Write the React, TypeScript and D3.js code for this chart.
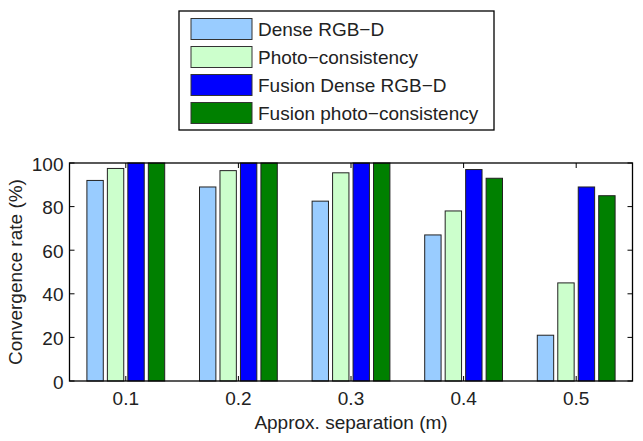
import React from "react";
import * as d3 from "d3";

// separations (m) and convergence rates (%) per method
const separations = ["0.1", "0.2", "0.3", "0.4", "0.5"];
const denseRgbd = [92, 89, 82.5, 67, 21];
const photoConsistency = [97.5, 96.5, 95.5, 78, 45];
const fusionDenseRgbd = [100, 100, 100, 97, 89];
const fusionPhoto = [100, 100, 100, 93, 85];
const seriesNames = [
  "Dense RGB\u2212D",
  "Photo\u2212consistency",
  "Fusion Dense RGB\u2212D",
  "Fusion photo\u2212consistency",
];
const yTicks = [0, 20, 40, 60, 80, 100];

const colors = ["#99ccff", "#ccffcc", "#0000ff", "#008000"];
const series = [denseRgbd, photoConsistency, fusionDenseRgbd, fusionPhoto];

const W = 643;
const H = 441;
const plot = { left: 69.5, right: 632.5, top: 163, bottom: 381 };
const font = "Liberation Sans, Arial, Helvetica, sans-serif";
const fs = 19;

const App = () => {
  const x = d3.scaleLinear().domain([0.5, separations.length + 0.5]).range([plot.left, plot.right]);
  const y = d3.scaleLinear().domain([0, 100]).range([plot.bottom, plot.top]);

  // matlab-style grouped bars
  const n = series.length;
  const groupWidth = Math.min(0.8, n / (n + 1.5));
  const slot = groupWidth / n;
  const barW = x(slot * 0.8) - x(0);

  return (
    <svg
      width={W}
      height={H}
      style={{ position: "absolute", left: 0, top: 0, background: "#fff" }}
      fontFamily={font}
    >
      <rect x={plot.left} y={plot.top} width={plot.right - plot.left} height={plot.bottom - plot.top} fill="#fff" />

      {series.map((vals, j) =>
        vals.map((v, i) => {
          const cx = x(i + 1 + (j - (n - 1) / 2) * slot);
          return (
            <rect
              key={`${j}-${i}`}
              x={cx - barW / 2}
              y={y(v)}
              width={barW}
              height={y(0) - y(v)}
              fill={colors[j]}
              stroke="#222"
              strokeWidth={1}
            />
          );
        })
      )}

      {/* axes box */}
      <rect
        x={plot.left}
        y={plot.top}
        width={plot.right - plot.left}
        height={plot.bottom - plot.top}
        fill="none"
        stroke="#000"
        strokeWidth={1.3}
      />

      {/* y ticks */}
      {yTicks.map((t) => (
        <g key={t}>
          <line x1={plot.left} x2={plot.left + 5} y1={y(t)} y2={y(t)} stroke="#000" />
          <line x1={plot.right} x2={plot.right - 5} y1={y(t)} y2={y(t)} stroke="#000" />
          <text x={plot.left - 6} y={y(t) + 1} dy="0.35em" textAnchor="end" fontSize={fs} fill="#222">
            {t}
          </text>
        </g>
      ))}

      {/* x ticks */}
      {separations.map((s, i) => (
        <g key={s}>
          <line x1={x(i + 1)} x2={x(i + 1)} y1={plot.bottom} y2={plot.bottom - 5} stroke="#000" />
          <line x1={x(i + 1)} x2={x(i + 1)} y1={plot.top} y2={plot.top + 5} stroke="#000" />
          <text x={x(i + 1)} y={405} textAnchor="middle" fontSize={fs} fill="#222">
            {s}
          </text>
        </g>
      ))}

      <text x={(plot.left + plot.right) / 2} y={429} textAnchor="middle" fontSize={fs} fill="#222">
        Approx. separation (m)
      </text>
      <text
        transform={`translate(22, ${(plot.top + plot.bottom) / 2}) rotate(-90)`}
        textAnchor="middle"
        fontSize={fs}
        fill="#222"
      >
        Convergence rate (%)
      </text>

      {/* legend */}
      <g>
        <rect x={179} y={11} width={315} height={119} fill="#fff" stroke="#000" strokeWidth={1.3} />
        {seriesNames.map((name, j) => (
          <g key={name} transform={`translate(0, ${j * 28})`}>
            <rect x={191} y={18.5} width={61} height={21} fill={colors[j]} stroke="#333" strokeWidth={1} />
            <text x={258} y={29} dy="0.35em" fontSize={fs} fill="#222">
              {name}
            </text>
          </g>
        ))}
      </g>
    </svg>
  );
};

export default App;
